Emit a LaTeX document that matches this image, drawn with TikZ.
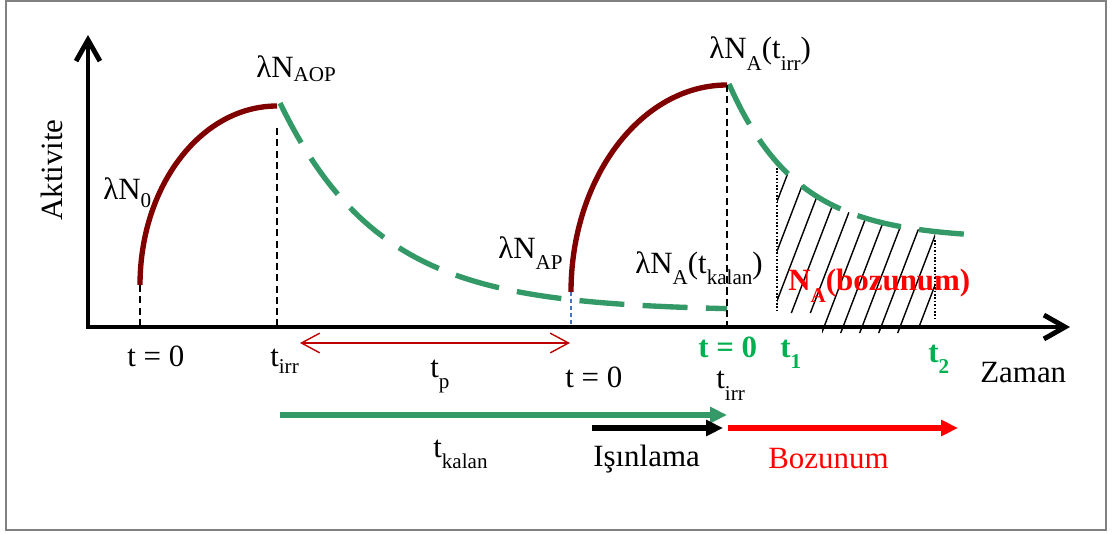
\documentclass[tikz,border=0pt]{standalone}
\usepackage{fontspec}
\setmainfont{Liberation Serif}
\usetikzlibrary{arrows.meta}
\definecolor{curvered}{HTML}{800000}
\definecolor{decaygreen}{HTML}{339966}
\definecolor{labelgreen}{HTML}{00B050}
\definecolor{spanred}{HTML}{C00000}
\definecolor{guideblue}{HTML}{4472C4}
\newcommand\subs[2][6pt]{\raisebox{-#1}{\fontsize{15}{15}\selectfont #2}}

\begin{document}
\begin{tikzpicture}[x=0.025cm, y=-0.025cm,
  every node/.style={inner sep=0pt, anchor=base west, font=\fontsize{22}{26}\selectfont},
  axis/.style={line width=3.5pt, {Straight Barb[length=15pt,width=17pt]}-{Straight Barb[length=15pt,width=17pt]}},
  growth/.style={curvered, line width=3.8pt},
  decay/.style={decaygreen, line width=3.8pt, dash pattern=on 32pt off 13pt},
  guide/.style={line width=1.1pt, dash pattern=on 5pt off 3pt},
  bound/.style={line width=1.3pt, dash pattern=on 1.2pt off 1.2pt},
  hatchline/.style={line width=1pt},
  span/.style={spanred, line width=1pt, {Straight Barb[length=13pt,width=14pt]}-{Straight Barb[length=13pt,width=14pt]}},
  bararrow/.style={line width=4.2pt, -{Triangle[length=12pt,width=11pt]}},
  greenlab/.style={text=labelgreen, font=\fontsize{22}{26}\selectfont\bfseries}]
\useasboundingbox (0,0) rectangle (1115,533);
\draw[gray, line width=1.2pt] (6,1) rectangle (1106,530);

% key points
\coordinate (O) at (88,327);
\coordinate (ytip) at (88,35);
\coordinate (xtip) at (1070,327);
\coordinate (g1s) at (140,285);
\coordinate (g1e) at (277,106);
\coordinate (g2s) at (571,292);
\coordinate (g2e) at (727,85);

% hatched area under the decay
\begin{scope}
\clip plot[domain=777:935, samples=30] (\x,{239-155*exp(-(\x-729)/68)}) -- (935,320) -- (900,333) -- (822,333) -- (822,313) -- (777,313) -- cycle;
\foreach \k in {0,...,13}
  \draw[hatchline] (705+19*\k,340) -- ++(80,-209);
\end{scope}
\draw[bound] (777,168) -- (777,313);
\draw[bound] (935,240) -- (935,320);

% curves
\draw[growth] (g1s) .. controls (140,186) and (201,106) .. (g1e);
\draw[growth] (g2s) .. controls (571,178) and (641,85) .. (g2e);
\draw[decay] plot[domain=280:727, samples=80] (\x,{311-208*exp(-(\x-280)/100)});
\draw[decay] plot[domain=729:974, samples=60] (\x,{239-155*exp(-(\x-729)/68)});

% guides
\draw[guide] (g1s) -- (g1s |- O);
\draw[guide] (277,128) -- (277,325);
\draw[guide] (g2e) -- (727,325);
\draw[guideblue, line width=1pt, dash pattern=on 3pt off 2pt] (g2s) -- (g2s |- O);

% axes
\draw[axis] (ytip) -- (O) -- (xtip);
\node[rotate=90, anchor=base] (ylab) at (62,170) {Aktivite};
\node (zaman) at (980,382) {Zaman};

% curve labels
\node (n0) at (103,199) {λN\subs[6pt]{0}};
\node (naop) at (256,77) {λN\subs[3pt]{AOP}};
\node (nap) at (498,258) {λN\subs[8.5pt]{AP}};
\node (nirr) at (709,58) {λN\subs[9pt]{A}(t\subs[9pt]{irr})};
\node (nkalan) at (635,273) {λN\subs[8.5pt]{A}(t\subs[8.5pt]{kalan})};
\node[text=red, font=\fontsize{22}{26}\selectfont\bfseries] (nboz) at (788,290) {N\subs[9pt]{A}(bozunum)};

% time labels
\node (t0a) at (127,366) {t = 0};
\node (tirra) at (270,366) {t\subs[5.5pt]{irr}};
\node (tp) at (430,377) {t\subs[8pt]{p}};
\node (t0b) at (565,387) {t = 0};
\node[greenlab] (t0c) at (698,357) {t = 0};
\node[greenlab] (t1) at (780,357) {t\subs[8pt]{1}};
\node[greenlab] (t2) at (928,362) {t\subs[8.5pt]{2}};
\node (tirrb) at (716,388) {t\subs[9pt]{irr}};

% periods
\coordinate (tpS) at (300,343);
\coordinate (tpE) at (570,343);
\draw[span] (tpS) -- (tpE);
\coordinate (kalanS) at (280,415);
\coordinate (kalanE) at (727,415);
\draw[bararrow, decaygreen] (kalanS) -- (kalanE);
\coordinate (isinS) at (592,428);
\coordinate (isinE) at (723,428);
\draw[bararrow, black] (isinS) -- (isinE);
\coordinate (bozS) at (728,428);
\coordinate (bozE) at (958,428);
\draw[bararrow, red] (bozS) -- (bozE);
\node (tkalan) at (433,457) {t\subs[8pt]{kalan}};
\node (isin) at (593,466) {Işınlama};
\node[text=red] (boz) at (768,468) {Bozunum};
\end{tikzpicture}
\end{document}
